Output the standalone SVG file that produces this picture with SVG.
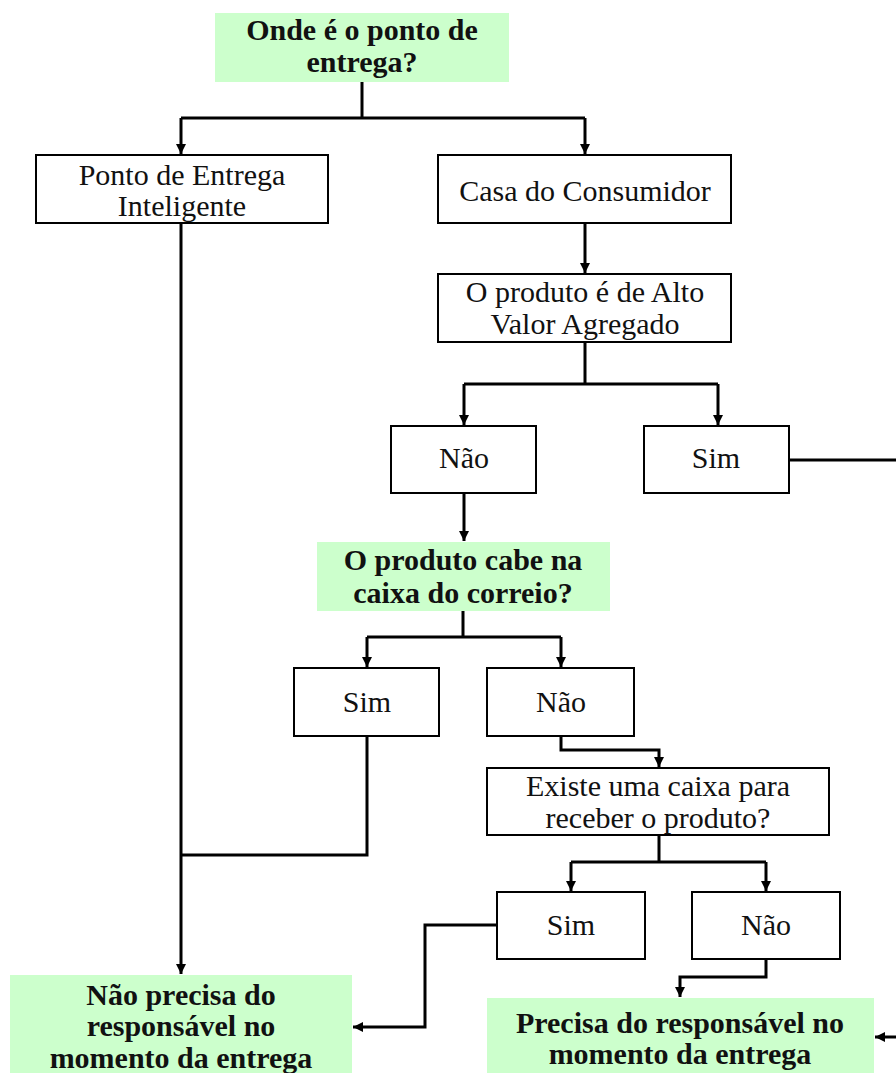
<svg xmlns="http://www.w3.org/2000/svg" width="896" height="1073" viewBox="0 0 896 1073">
<defs>
<marker id="ah" viewBox="0 0 10 10" refX="10" refY="5" markerWidth="10" markerHeight="10" markerUnits="userSpaceOnUse" orient="auto">
<path d="M0,0 L10,5 L0,10 z" fill="#000"/>
</marker>
<style>
.box{fill:#fff;stroke:#000;stroke-width:2}
.g{fill:#ccffcc;stroke:none}
.t{font-family:"Liberation Serif","Times New Roman",serif;font-size:30px;fill:#111;text-anchor:middle}
.b{font-family:"Liberation Serif","Times New Roman",serif;font-size:30px;font-weight:bold;fill:#111;text-anchor:middle}
.c{fill:none;stroke:#000;stroke-width:3}
</style>
</defs>
<rect width="896" height="1073" fill="#fff"/>
<g id="connectors">
<path class="c" d="M362,82 V118"/>
<path class="c" d="M181,118 H585"/>
<path class="c" d="M181,118 V154" marker-end="url(#ah)"/>
<path class="c" d="M585,118 V154" marker-end="url(#ah)"/>
<path class="c" d="M181,223 V974" marker-end="url(#ah)"/>
<path class="c" d="M585,223 V273" marker-end="url(#ah)"/>
<path class="c" d="M585,342 V384 M464,384 H718"/>
<path class="c" d="M464,384 V425" marker-end="url(#ah)"/>
<path class="c" d="M718,384 V425" marker-end="url(#ah)"/>
<path class="c" d="M789,460 H896"/>
<path class="c" d="M464,493 V541" marker-end="url(#ah)"/>
<path class="c" d="M463,611 V637 M367,637 H561"/>
<path class="c" d="M367,637 V667" marker-end="url(#ah)"/>
<path class="c" d="M561,637 V667" marker-end="url(#ah)"/>
<path class="c" d="M367,736 V855 H181"/>
<path class="c" d="M561,736 V750 H659 V767" marker-end="url(#ah)"/>
<path class="c" d="M659,835 V862 M571,862 H766"/>
<path class="c" d="M571,862 V891" marker-end="url(#ah)"/>
<path class="c" d="M766,862 V891" marker-end="url(#ah)"/>
<path class="c" d="M497,925 H425 V1027 H353" marker-end="url(#ah)"/>
<path class="c" d="M766,959 V977 H680 V997" marker-end="url(#ah)"/>
<path class="c" d="M896,1037 H875" marker-end="url(#ah)"/>
</g>
<g id="n1"><rect class="g" x="215" y="13" width="294" height="69"/><text class="b" x="362" y="40">Onde é o ponto de</text><text class="b" x="362" y="72">entrega?</text></g>
<g id="n2"><rect class="box" x="36" y="155" width="292" height="68"/><text class="t" x="182" y="185">Ponto de Entrega</text><text class="t" x="182" y="216">Inteligente</text></g>
<g id="n3"><rect class="box" x="438" y="155" width="293" height="68"/><text class="t" x="585" y="201">Casa do Consumidor</text></g>
<g id="n4"><rect class="box" x="438" y="274" width="293" height="68"/><text class="t" x="585" y="302">O produto é de Alto</text><text class="t" x="585" y="334">Valor Agregado</text></g>
<g id="n5"><rect class="box" x="391" y="426" width="145" height="67"/><text class="t" x="464" y="468">Não</text></g>
<g id="n6"><rect class="box" x="644" y="426" width="145" height="67"/><text class="t" x="716" y="468">Sim</text></g>
<g id="n7"><rect class="g" x="317" y="542" width="293" height="69"/><text class="b" x="463" y="570">O produto cabe na</text><text class="b" x="463" y="603">caixa do correio?</text></g>
<g id="n8"><rect class="box" x="294" y="668" width="145" height="68"/><text class="t" x="367" y="712">Sim</text></g>
<g id="n9"><rect class="box" x="487" y="668" width="147" height="68"/><text class="t" x="561" y="712">Não</text></g>
<g id="n10"><rect class="box" x="487" y="768" width="342" height="67"/><text class="t" x="658" y="796">Existe uma caixa para</text><text class="t" x="658" y="828">receber o produto?</text></g>
<g id="n11"><rect class="box" x="497" y="892" width="148" height="67"/><text class="t" x="571" y="935">Sim</text></g>
<g id="n12"><rect class="box" x="692" y="892" width="148" height="67"/><text class="t" x="766" y="935">Não</text></g>
<g id="n13"><rect class="g" x="10" y="975" width="342" height="98"/><text class="b" x="181" y="1005">Não precisa do</text><text class="b" x="181" y="1036">responsável no</text><text class="b" x="181" y="1068">momento da entrega</text></g>
<g id="n14"><rect class="g" x="487" y="998" width="387" height="75"/><text class="b" x="680" y="1033">Precisa do responsável no</text><text class="b" x="680" y="1064">momento da entrega</text></g>
</svg>
